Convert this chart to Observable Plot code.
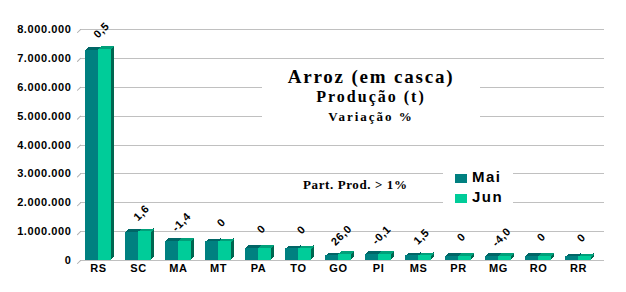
<!DOCTYPE html>
<html>
<head>
<meta charset="utf-8">
<script src="https://cdn.jsdelivr.net/npm/d3@7"></script>
<script src="https://cdn.jsdelivr.net/npm/@observablehq/plot@0.6"></script>
<style>
  html, body { margin: 0; padding: 0; background: #fff; }
  #wrap { position: relative; width: 626px; height: 292px; overflow: hidden; background: #fff; }
  .box { position: absolute; background: #fff; }
  .t { position: absolute; white-space: nowrap; line-height: 1; color: #000; }
  .serif { font-family: "Liberation Serif", "Times New Roman", serif; font-weight: bold; }
  .sans { font-family: "Liberation Sans", Arial, sans-serif; font-weight: bold; }
  .sw { position: absolute; width: 12px; height: 9px; }
</style>
</head>
<body>
<div id="wrap"></div>
<script>
const categories = ["RS","SC","MA","MT","PA","TO","GO","PI","MS","PR","MG","RO","RR"];
const mai = [7280000, 975000, 670000, 650000, 430000, 402000, 168000, 222000, 163000, 150000, 152000, 150000, 128000];
const jun = [7316000, 991000, 660000, 650000, 430000, 402000, 212000, 222000, 165000, 150000, 146000, 150000, 128000];
const variacao = ["0,5","1,6","-1,4","0","0","0","26,0","-0,1","1,5","0","-4,0","0","0"];
const yTicks = [0, 1000000, 2000000, 3000000, 4000000, 5000000, 6000000, 7000000, 8000000];
const seriesNames = ["Mai", "Jun"];

const W = 626, H = 292, ML = 77, MR = 27, MT = 29, MB = 32;
const band = (W - ML - MR) / categories.length;
const D = 3;

const rows = categories.map((c, i) => ({cat: c, mai: mai[i], jun: jun[i], label: variacao[i], top: Math.max(mai[i], jun[i])}));
const fmt = d3.formatLocale({decimal: ",", thousands: ".", grouping: [3], currency: ["", ""]}).format(",d");

const series = [
  {key: "mai", front: "#008080", top: "#006666", side: "#005f5f", iL: band / 2 - 13.5, iR: band / 2},
  {key: "jun", front: "#00CC99", top: "#00a07a", side: "#006650", iL: band / 2, iR: band / 2 - 13}
];

const barMarks = [];
for (const s of series) {
  for (let k = 1; k <= D; k++) {
    barMarks.push(Plot.barY(rows, {x: "cat", y: s.key, fill: s.side, insetLeft: band - s.iR + k - 1, insetRight: s.iR - k, dy: -k, shapeRendering: "crispEdges"}));
  }
  for (let k = 1; k <= D; k++) {
    barMarks.push(Plot.tickY(rows, {x: "cat", y: s.key, stroke: s.top, strokeWidth: 1, insetLeft: s.iL, insetRight: s.iR, dx: k, dy: -k + 0.5, shapeRendering: "crispEdges"}));
  }
  barMarks.push(Plot.barY(rows, {x: "cat", y: s.key, fill: s.front, insetLeft: s.iL, insetRight: s.iR, shapeRendering: "crispEdges"}));
}

const stubShape = {draw(context, l) { context.moveTo(0, 0); context.lineTo(0, -l); }};

const chart = Plot.plot({
  width: W, height: H,
  marginLeft: ML, marginRight: MR, marginTop: MT, marginBottom: MB,
  style: {fontFamily: "'Liberation Sans', Arial, sans-serif", fontWeight: "bold", fontSize: "11px", letterSpacing: "0.6px", color: "#000", background: "transparent", overflow: "visible"},
  x: {domain: categories, padding: 0, label: null, tickSize: 0, tickPadding: 4},
  y: {domain: [0, 8000000], ticks: yTicks, tickFormat: fmt, label: null, tickSize: 0, tickPadding: 6},
  marks: [
    Plot.ruleY(yTicks, {stroke: "#c0c0c0", insetLeft: 3, insetRight: -5, shapeRendering: "crispEdges"}),
    Plot.vector(yTicks, {y: d => d, frameAnchor: "left", anchor: "start", rotate: 45, length: 4.2, dy: 3, stroke: "#b0b0b0", strokeWidth: 1, shape: stubShape}),
    ...barMarks,
    Plot.text(rows, {x: "cat", y: "top", text: "label", rotate: -45, dx: 3, dy: -19, fontSize: 11, fontWeight: "bold", fill: "#000"})
  ]
});

const wrap = document.getElementById("wrap");
chart.style.position = "absolute";
chart.style.left = "0px";
chart.style.top = "0px";
wrap.appendChild(chart);

function add(html) { wrap.insertAdjacentHTML("beforeend", html); }
// title box
add('<div class="box" style="left:262px;top:62px;width:218px;height:78px;"></div>');
add('<div class="t serif" style="left:262px;width:218px;text-align:center;top:67px;font-size:19px;letter-spacing:1.8px;">Arroz (em casca)</div>');
add('<div class="t serif" style="left:262px;width:218px;text-align:center;top:89px;font-size:16px;letter-spacing:2px;">Produção (t)</div>');
add('<div class="t serif" style="left:262px;width:218px;text-align:center;top:110px;font-size:13px;letter-spacing:2px;">Variação %</div>');
// subnote
add('<div class="t serif" style="left:303px;top:178px;font-size:13px;letter-spacing:0.6px;">Part. Prod. &gt; 1%</div>');
// legend
add('<div class="box" style="left:443px;top:160px;width:70px;height:52px;"></div>');
add('<div class="sw" style="left:455px;top:174px;background:' + series[0].front + ';"></div>');
add('<div class="sw" style="left:455px;top:194px;background:' + series[1].front + ';"></div>');
add('<div class="t sans" style="left:472px;top:169px;font-size:15px;letter-spacing:1.5px;">' + seriesNames[0] + '</div>');
add('<div class="t sans" style="left:472px;top:189px;font-size:15px;letter-spacing:1.5px;">' + seriesNames[1] + '</div>');
</script>
</body>
</html>
